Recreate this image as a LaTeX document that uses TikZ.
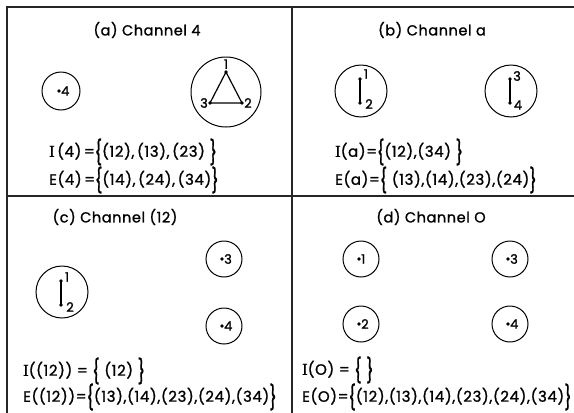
\documentclass[tikz,border=0pt]{standalone}
\usepackage{fontspec}
\usepackage{graphicx}
\setmainfont{Poppins}[FakeBold=1.2]
\newfontfamily\eqfont{Poppins}[FakeBold=1.2,LetterSpace=4]
\newfontfamily\ttlfont{Poppins}[FakeBold=1.2,LetterSpace=4]
\newfontfamily\serifI{Liberation Serif}[FakeBold=1.5]
\newcommand{\II}{{\serifI\scalebox{1.1}{I}}}
\newcommand{\LB}{\raisebox{-0.28em}{\scalebox{1.05}[1.6]{\{}}}
\newcommand{\RB}{\raisebox{-0.28em}{\scalebox{1.05}[1.6]{\}}}}
\begin{document}
\begin{tikzpicture}[x=1pt,y=-1pt,
  frame/.style={line width=1.1pt, draw=black!85},
  ring/.style={circle, draw, line width=1pt, inner sep=0pt},
  dot/.style={circle, fill, inner sep=0pt, minimum size=3.6pt},
  edge/.style={line width=1.2pt},
  title/.style={font=\ttlfont\fontsize{14.5}{16}\selectfont, inner sep=0pt},
  eq/.style={anchor=west, font=\eqfont\fontsize{15}{17}\selectfont, inner sep=0pt},
  num/.style={font=\fontsize{13}{15}\selectfont, inner sep=0pt},
  lab/.style={label distance=2pt}
]
\useasboundingbox (0,0) rectangle (574,413);
% frame
\draw[frame] (574,7) -- (7,7) -- (7,413);
\draw[frame] (292,7) -- (292,413);
\draw[frame] (7,196) -- (574,196);

% (a)
\node[title] (ta) at (147,30) {(a) Channel 4};
\node[ring, minimum size=38pt] (ca4) at (61,91) {};
\node[dot, lab, label={[num]right:4}] (a4) at (59,91) {};
\node[ring, minimum size=70pt] (cab) at (226,92) {};
\node[dot, lab, label={[num,label distance=1pt]above:1}] (a1) at (226,72) {};
\node[dot, lab, label={[num]right:2}] (a2) at (242,103) {};
\node[dot, lab, label={[num]left:3}] (a3) at (210,103) {};
\draw[edge] (a1.center) -- (a2.center) -- (a3.center) -- (a1.center);
\node[eq] (ia) at (49,152) {\II\,(4)\,=\LB(12),\,(13),\,(23) \RB};
\node[eq] (ea) at (49,180) {E(4)\,=\LB(14),\,(24),\,(34)\RB};

% (b)
\node[title] (tb) at (432,30) {(b) Channel a};
\node[ring, minimum size=52pt] (cb12) at (361,91) {};
\node[dot] (b1) at (360,79) {};
\node[dot] (b2) at (360,103) {};
\node[num] at (366,74) {1};
\node[num] at (369,104) {2};
\draw[edge] (b1.center) -- (b2.center);
\node[ring, minimum size=52pt] (cb34) at (511,91) {};
\node[dot] (b3) at (510,79) {};
\node[dot] (b4) at (510,103) {};
\node[num] at (517,76) {3};
\node[num] at (518,105) {4};
\draw[edge] (b3.center) -- (b4.center);
\node[eq] (ib) at (335,152) {\II(a)=\LB(12),(34) \RB};
\node[eq] (eb) at (335,180) {E(a)=\LB\ (13),(14),(23),(24)\RB};

% (c)
\node[title] (tc) at (115,217) {(c) Channel (12)};
\node[ring, minimum size=52pt] (cc12) at (62,292) {};
\node[dot] (c1) at (61,281) {};
\node[dot] (c2) at (61,305) {};
\node[num] at (67,277) {1};
\node[num] at (70,307) {2};
\draw[edge] (c1.center) -- (c2.center);
\node[ring, minimum size=36pt] (cc3) at (224,259) {};
\node[dot, lab, label={[num]right:3}] (c3) at (222,259) {};
\node[ring, minimum size=36pt] (cc4) at (224,326) {};
\node[dot, lab, label={[num]right:4}] (c4) at (222,326) {};
\node[eq] (ic) at (23,371) {\II((12)) = \LB\ (12) \RB};
\node[eq] (ec) at (23,397) {E((12))=\LB(13),(14),(23),(24),(34)\RB};

% (d)
\node[title] (td) at (431,217) {(d) Channel O};
\node[ring, minimum size=36pt] (cd1) at (361,259) {};
\node[dot, lab, label={[num]right:1}] (d1) at (359,259) {};
\node[ring, minimum size=36pt] (cd3) at (510,259) {};
\node[dot, lab, label={[num]right:3}] (d3) at (508,259) {};
\node[ring, minimum size=36pt] (cd2) at (361,324) {};
\node[dot, lab, label={[num]right:2}] (d2) at (359,324) {};
\node[ring, minimum size=36pt] (cd4) at (510,324) {};
\node[dot, lab, label={[num]right:4}] (d4) at (508,324) {};
\node[eq] (id) at (302,370) {\II(O) = \LB\ \RB};
\node[eq] (ed) at (302,397) {E(O)=\LB(12),(13),(14),(23),(24),(34)\RB};
\end{tikzpicture}
\end{document}
